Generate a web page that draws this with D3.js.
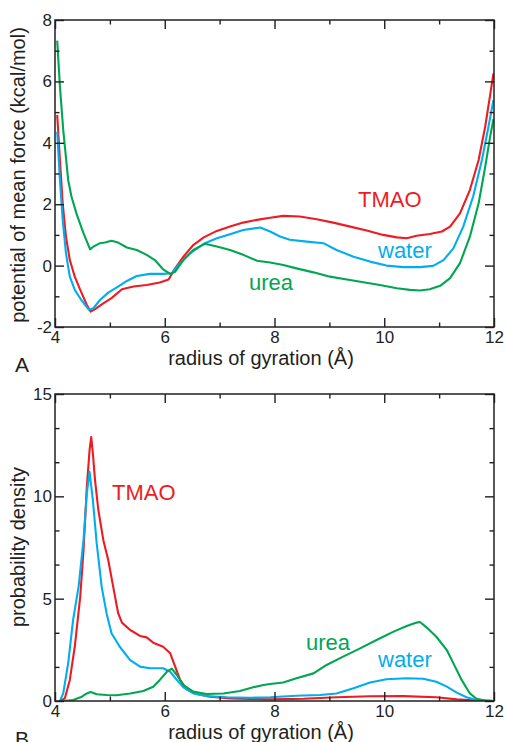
<!DOCTYPE html>
<html><head><meta charset="utf-8">
<script src="https://cdn.jsdelivr.net/npm/d3@7"></script>
<style>
html,body{margin:0;padding:0;background:#fff;}
svg text{font-family:"Liberation Sans",Arial,sans-serif;fill:#231f20;}
</style></head>
<body>
<svg id="chart" width="506" height="742"></svg>
<script>
// ---------- data ----------
const pmfTmaoX = [4.04,4.09,4.14,4.20,4.27,4.36,4.46,4.58,4.65,4.73,4.88,5.03,5.22,5.43,5.67,5.91,6.07,6.19,6.34,6.52,6.71,6.95,7.19,7.43,7.68,7.92,8.16,8.46,8.77,9.07,9.38,9.68,9.98,10.23,10.41,10.59,10.83,11.05,11.20,11.38,11.56,11.72,11.84,11.93,11.99];
const pmfTmaoY = [4.91,3.44,2.03,0.94,0.18,-0.36,-0.79,-1.28,-1.50,-1.42,-1.23,-1.06,-0.77,-0.68,-0.63,-0.55,-0.45,-0.09,0.29,0.67,0.92,1.13,1.27,1.40,1.49,1.56,1.62,1.60,1.51,1.40,1.27,1.14,1.00,0.92,0.89,0.97,1.03,1.11,1.27,1.70,2.46,3.44,4.53,5.56,6.26];
const pmfWaterX = [4.04,4.09,4.14,4.20,4.27,4.36,4.48,4.62,4.70,4.82,4.97,5.12,5.31,5.49,5.73,5.97,6.13,6.28,6.46,6.71,6.95,7.19,7.43,7.74,7.92,8.10,8.28,8.59,8.89,9.13,9.44,9.74,10.04,10.35,10.65,10.89,11.08,11.26,11.44,11.62,11.78,11.90,11.99];
const pmfWaterY = [4.36,2.79,1.49,0.40,-0.36,-0.79,-1.12,-1.44,-1.39,-1.12,-0.88,-0.72,-0.50,-0.34,-0.27,-0.27,-0.25,0.08,0.40,0.71,0.89,1.02,1.16,1.24,1.11,0.95,0.84,0.78,0.73,0.51,0.29,0.13,0.00,-0.05,-0.05,-0.01,0.18,0.56,1.27,2.25,3.44,4.53,5.40];
const pmfUreaX = [4.04,4.09,4.15,4.24,4.30,4.39,4.52,4.64,4.70,4.82,4.91,5.03,5.15,5.31,5.49,5.67,5.82,5.97,6.10,6.19,6.34,6.52,6.73,6.95,7.19,7.43,7.68,7.92,8.16,8.40,8.71,9.01,9.32,9.62,9.92,10.23,10.47,10.65,10.83,11.02,11.20,11.38,11.56,11.72,11.84,11.93,11.99];
const pmfUreaY = [7.33,5.83,4.42,2.79,2.25,1.70,1.05,0.53,0.62,0.73,0.75,0.81,0.75,0.59,0.51,0.35,0.18,-0.12,-0.27,-0.20,0.18,0.51,0.71,0.62,0.51,0.35,0.16,0.10,0.02,-0.09,-0.22,-0.36,-0.45,-0.54,-0.63,-0.74,-0.79,-0.81,-0.77,-0.66,-0.41,0.08,0.94,2.03,3.22,4.20,4.77];

const pdTmaoX = [4.09,4.18,4.27,4.36,4.46,4.52,4.58,4.63,4.66,4.69,4.73,4.79,4.88,4.97,5.06,5.15,5.22,5.37,5.55,5.67,5.79,5.97,6.10,6.19,6.28,6.40,6.58,6.83,7.19,7.55,7.92,8.53,9.13,9.74,10.35,10.95,11.32,11.68,11.99];
const pdTmaoY = [0,0.13,1.03,2.65,5.10,7.38,10.47,12.26,12.9,12.1,10.78,9.33,7.87,6.89,5.59,4.30,3.83,3.47,3.18,3.11,2.85,2.65,2.33,1.68,1.03,0.57,0.34,0.21,0.13,0.10,0.08,0.11,0.18,0.23,0.24,0.18,0.08,0.02,0];
const pdWaterX = [4.09,4.15,4.24,4.33,4.43,4.52,4.58,4.63,4.69,4.76,4.85,4.94,5.03,5.18,5.37,5.55,5.73,5.97,6.10,6.22,6.34,6.52,6.76,7.13,7.55,7.92,8.40,8.83,9.13,9.44,9.74,10.04,10.41,10.71,10.95,11.14,11.32,11.50,11.68,11.99];
const pdWaterY = [0,0.37,1.84,3.96,5.59,7.87,10.15,11.2,9.82,7.70,5.59,4.28,3.31,2.65,2.0,1.68,1.60,1.60,1.43,1.03,0.67,0.37,0.24,0.18,0.16,0.18,0.26,0.29,0.37,0.62,0.90,1.06,1.11,1.09,0.94,0.70,0.41,0.18,0.05,0];
const pdUreaX = [4.15,4.33,4.49,4.58,4.65,4.76,4.94,5.12,5.37,5.61,5.79,5.91,6.04,6.13,6.22,6.34,6.52,6.76,7.07,7.37,7.61,7.80,7.92,8.16,8.40,8.71,8.95,9.25,9.56,9.86,10.17,10.41,10.59,10.65,10.77,10.95,11.14,11.29,11.41,11.56,11.68,11.84,11.99];
const pdUreaY = [0,0.05,0.21,0.37,0.44,0.33,0.29,0.28,0.37,0.49,0.70,1.03,1.43,1.58,1.27,0.78,0.46,0.34,0.37,0.49,0.67,0.78,0.83,0.90,1.11,1.35,1.76,2.17,2.57,2.98,3.39,3.66,3.83,3.86,3.60,3.14,2.49,1.68,1.03,0.37,0.11,0.02,0];

const seriesNames = ["TMAO","water","urea"];
const seriesColors = ["#ed1c24","#00aeef","#00a651"];

const xMajorTicks = [4,6,8,10,12];
const xMinorTicks = [5,7,9,11];
const pmfMajorTicks = [-2,0,2,4,6,8];
const pmfMinorTicks = [-1,1,3,5,7];
const pdMajorTicks = [0,5,10,15];
const pdMinorTicks = [5/3,10/3,20/3,25/3,35/3,40/3];

const xTitle = "radius of gyration (Å)";
const pmfTitle = "potential of mean force (kcal/mol)";
const pdTitle = "probability density";

// ---------- drawing ----------
const svg = d3.select("#chart");
const L = 55, R = 494;
const AX = "#231f20";
const fmt = d => String(d);

function panel(top, bottom, yDomain, majors, minors, series, labels, letter){
  const x = d3.scaleLinear().domain([4,12]).range([L,R]);
  const y = d3.scaleLinear().domain(yDomain).range([bottom,top]);
  const g = svg.append("g");

  const id = "clip"+top;
  svg.append("clipPath").attr("id",id).append("rect")
    .attr("x",L).attr("y",top-2).attr("width",R-L).attr("height",bottom-top+2);

  const line = d3.line().x(d=>x(d[0])).y(d=>y(d[1]));
  series.forEach((s,i)=>{
    g.append("path").datum(d3.zip(s[0],s[1]))
      .attr("d",line).attr("fill","none")
      .attr("stroke",seriesColors[i]).attr("stroke-width",2.1)
      .attr("stroke-linejoin","round").attr("clip-path","url(#"+id+")");
  });

  const style = sel => { sel.select(".domain").remove(); sel.selectAll("line").attr("stroke",AX).attr("stroke-width",1.4); sel.selectAll("text").remove(); };

  g.append("g").attr("transform",`translate(0,${bottom})`).call(d3.axisBottom(x).tickValues(xMinorTicks).tickSize(-4.5)).call(style);
  g.append("g").attr("transform",`translate(0,${top})`).call(d3.axisTop(x).tickValues(xMinorTicks).tickSize(-4.5)).call(style);
  g.append("g").attr("transform",`translate(${L},0)`).call(d3.axisLeft(y).tickValues(minors).tickSize(-4.5)).call(style);
  g.append("g").attr("transform",`translate(${R},0)`).call(d3.axisRight(y).tickValues(minors).tickSize(-4.5)).call(style);
  g.append("g").attr("transform",`translate(0,${top})`).call(d3.axisTop(x).tickValues(xMajorTicks).tickSize(-9)).call(style);
  g.append("g").attr("transform",`translate(${R},0)`).call(d3.axisRight(y).tickValues(majors).tickSize(-9)).call(style);

  const xa = g.append("g").attr("transform",`translate(0,${bottom})`)
    .call(d3.axisBottom(x).tickValues(xMajorTicks).tickSize(-9).tickPadding(4).tickFormat(fmt));
  xa.select(".domain").remove();
  xa.selectAll("line").attr("stroke",AX).attr("stroke-width",1.4);
  xa.selectAll("text").attr("font-size",17).attr("fill",AX).style("font-family","'Liberation Sans',Arial,sans-serif");

  const ya = g.append("g").attr("transform",`translate(${L},0)`)
    .call(d3.axisLeft(y).tickValues(majors).tickSize(-9).tickPadding(3).tickFormat(fmt));
  ya.select(".domain").remove();
  ya.selectAll("line").attr("stroke",AX).attr("stroke-width",1.4);
  ya.selectAll("text").attr("font-size",17).attr("fill",AX).style("font-family","'Liberation Sans',Arial,sans-serif");

  g.append("rect").attr("x",L).attr("y",top).attr("width",R-L).attr("height",bottom-top)
    .attr("fill","none").attr("stroke",AX).attr("stroke-width",1.5);

  g.append("text").attr("x",261).attr("y",bottom+38).attr("text-anchor","middle")
    .attr("font-size",20).text(xTitle);
  g.append("text").attr("x",15).attr("y",bottom+45).attr("font-size",21).text(letter);

  labels.forEach(l=>{
    g.append("text").attr("x",l.x).attr("y",l.y).attr("font-size",22)
      .style("fill",seriesColors[seriesNames.indexOf(l.name)]).text(l.name);
  });
  return {x,y};
}

panel(20,327,[-2,8],pmfMajorTicks,pmfMinorTicks,
  [[pmfTmaoX,pmfTmaoY],[pmfWaterX,pmfWaterY],[pmfUreaX,pmfUreaY]],
  [{name:"TMAO",x:358,y:207},{name:"water",x:378,y:258},{name:"urea",x:249,y:290}],"A");
svg.append("text").attr("transform","translate(25,175) rotate(-90)").attr("text-anchor","middle")
  .attr("font-size",20).text(pmfTitle);

panel(394,701,[0,15],pdMajorTicks,pdMinorTicks,
  [[pdTmaoX,pdTmaoY],[pdWaterX,pdWaterY],[pdUreaX,pdUreaY]],
  [{name:"TMAO",x:112,y:500},{name:"water",x:378,y:667},{name:"urea",x:306,y:650}],"B");
svg.append("text").attr("transform","translate(25,547) rotate(-90)").attr("text-anchor","middle")
  .attr("font-size",20).text(pdTitle);
</script>
</body></html>
